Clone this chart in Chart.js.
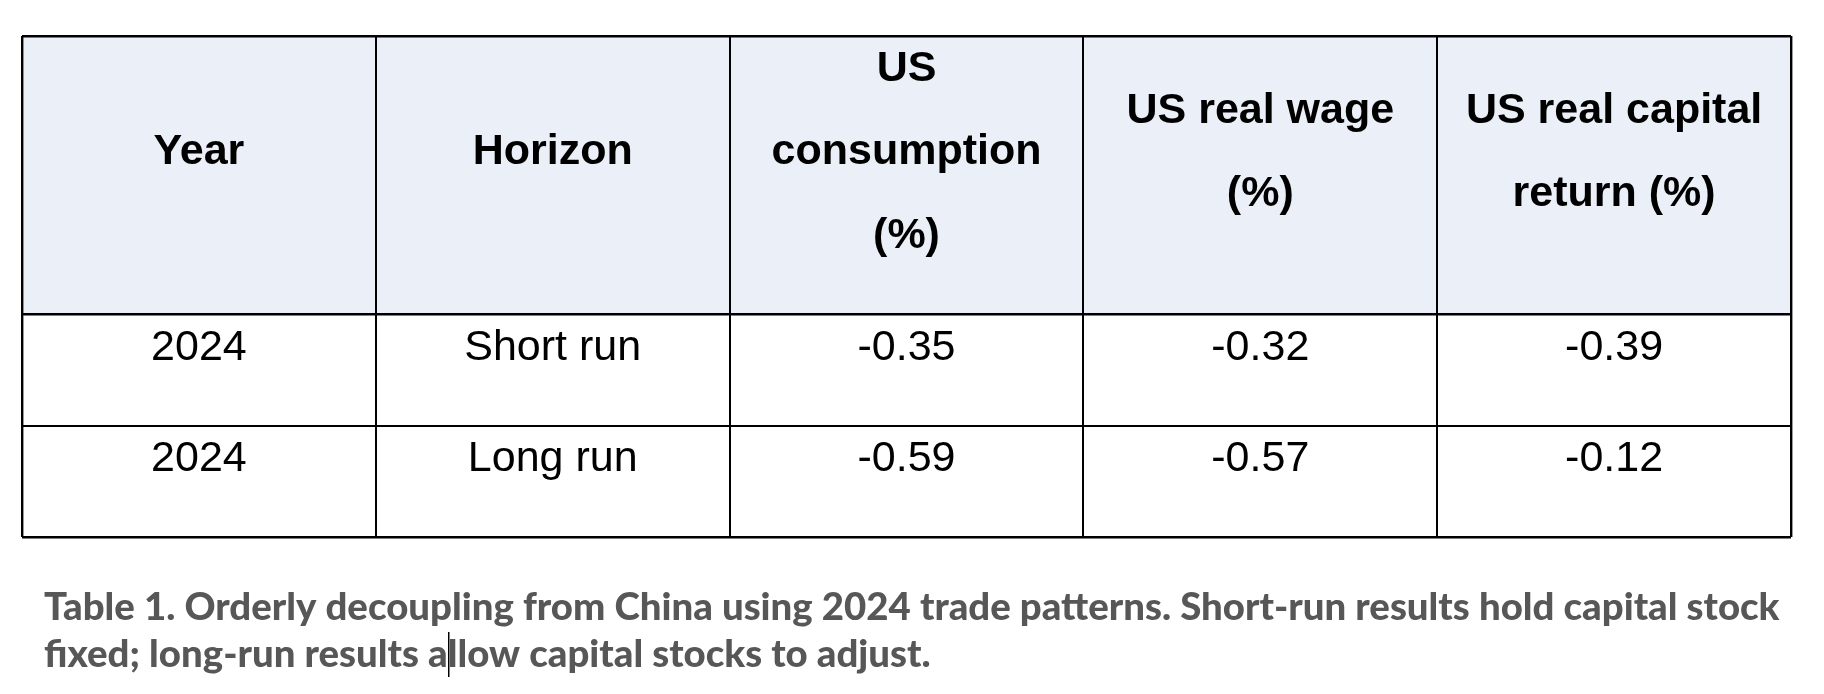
<!DOCTYPE html>
<html>
<head>
<meta charset="utf-8">
<script src="https://cdn.jsdelivr.net/npm/chart.js@4.4.1/dist/chart.umd.min.js"></script>
<style>
  html, body { margin: 0; padding: 0; background: #fff; }
  #wrap { width: 1824px; height: 694px; position: relative; }
</style>
</head>
<body>
<div id="wrap"><canvas id="tabla"></canvas></div>
<script>
// table content
const headers = [
    ['Year'],
    ['Horizon'],
    ['US', 'consumption', '(%)'],
    ['US real wage', '(%)'],
    ['US real capital', 'return (%)']
];
const years = ['2024', '2024'];
const horizons = ['Short run', 'Long run'];
const usConsumption = [-0.35, -0.59];
const usRealWage = [-0.32, -0.57];
const usCapitalReturn = [-0.39, -0.12];
const caption = [
    'Table 1. Orderly decoupling from China using 2024 trade patterns. Short-run results hold capital stock',
    'fixed; long-run results allow capital stocks to adjust.'
];

// row edges on the y scale (header is 2.5 units tall, body rows 1 unit)
const rowEdges = [0, 2.5, 3.5, 4.5];

const cellFont = '"Liberation Sans", Arial, sans-serif';
const capFont = 'Lato, "Open Sans", sans-serif';

function buildRows(){
    return years.map(function(y, i){
        return [y, horizons[i], usConsumption[i].toFixed(2), usRealWage[i].toFixed(2), usCapitalReturn[i].toFixed(2)];
    });
}

const tablePlugin = {
    id: 'tablePlugin',
    beforeDraw(chart){
        const ctx = chart.ctx;
        const xs = chart.scales.x, ys = chart.scales.y;
        // header background
        ctx.save();
        ctx.fillStyle = '#EBF0F8';
        const top = ys.getPixelForValue(rowEdges[0]);
        const bot = ys.getPixelForValue(rowEdges[1]);
        ctx.fillRect(xs.getPixelForValue(0), top, xs.getPixelForValue(headers.length) - xs.getPixelForValue(0), bot - top);
        ctx.restore();
    },
    afterDraw(chart){
        const ctx = chart.ctx;
        const xs = chart.scales.x, ys = chart.scales.y;
        const size = 43;
        const lineStep = 0.746;
        ctx.save();
        ctx.fillStyle = '#000';
        ctx.textAlign = 'center';
        ctx.textBaseline = 'alphabetic';

        // header text
        ctx.font = 'bold ' + size + 'px ' + cellFont;
        headers.forEach(function(lines, c){
            const cx = xs.getPixelForValue(c + 0.5);
            const mid = 1.015;
            lines.forEach(function(t, k){
                const yv = mid + (k - (lines.length - 1) / 2) * lineStep;
                ctx.fillText(t, cx, ys.getPixelForValue(yv) + size * 0.36);
            });
        });

        // body
        ctx.font = size + 'px ' + cellFont;
        buildRows().forEach(function(row, r){
            const yv = rowEdges[r + 1] + 0.27;
            row.forEach(function(t, c){
                ctx.fillText(t, xs.getPixelForValue(c + 0.5), ys.getPixelForValue(yv) + size * 0.36);
            });
        });

        // caption under the table
        const left = 44;
        const targetW = 1736;
        ctx.font = '900 34px ' + capFont;
        const w0 = ctx.measureText(caption[0]).width;
        const capSize = 34 * targetW / w0;
        ctx.font = '900 ' + capSize.toFixed(2) + 'px ' + capFont;
        ctx.fillStyle = '#575757';
        ctx.textAlign = 'left';
        const base = ys.getPixelForValue(rowEdges[rowEdges.length - 1]);
        ctx.fillText(caption[0], left, base + 83);
        ctx.fillText(caption[1], left, base + 129.5);

        // text cursor left in the caption
        const cur = left + ctx.measureText('fixed; long-run results a').width + 1;
        ctx.strokeStyle = '#000';
        ctx.lineWidth = 1.5;
        ctx.beginPath();
        ctx.moveTo(cur, base + 95);
        ctx.lineTo(cur, base + 140);
        ctx.stroke();
        ctx.restore();
    }
};

const config = {
    type: 'scatter',
    data: { datasets: [] },
    options: {
        responsive: true,
        maintainAspectRatio: false,
        animation: false,
        events: [],
        layout: { padding: { left: 22, top: 36, right: 33, bottom: 157 } },
        plugins: {
            legend: { display: false },
            tooltip: { enabled: false }
        },
        scales: {
            x: {
                type: 'linear',
                min: 0,
                max: headers.length,
                ticks: { display: false, stepSize: 1 },
                grid: {
                    color: '#000',
                    drawTicks: false,
                    lineWidth: function(c){
                        const v = c.tick ? c.tick.value : 0;
                        return (v === 0 || v === headers.length) ? 2.4 : 2;
                    }
                },
                border: { display: false }
            },
            y: {
                type: 'linear',
                reverse: true,
                min: rowEdges[0],
                max: rowEdges[rowEdges.length - 1],
                afterBuildTicks: function(axis){
                    axis.ticks = rowEdges.map(function(v){ return { value: v }; });
                },
                ticks: { display: false },
                grid: {
                    color: '#000',
                    drawTicks: false,
                    lineWidth: function(c){
                        const v = c.tick ? c.tick.value : 0;
                        return (v === rowEdges[0] || v === rowEdges[1] || v === rowEdges[rowEdges.length - 1]) ? 2.4 : 2;
                    }
                },
                border: { display: false }
            }
        }
    },
    plugins: [tablePlugin]
};

const myChart = new Chart(document.getElementById('tabla'), config);
</script>
</body>
</html>
